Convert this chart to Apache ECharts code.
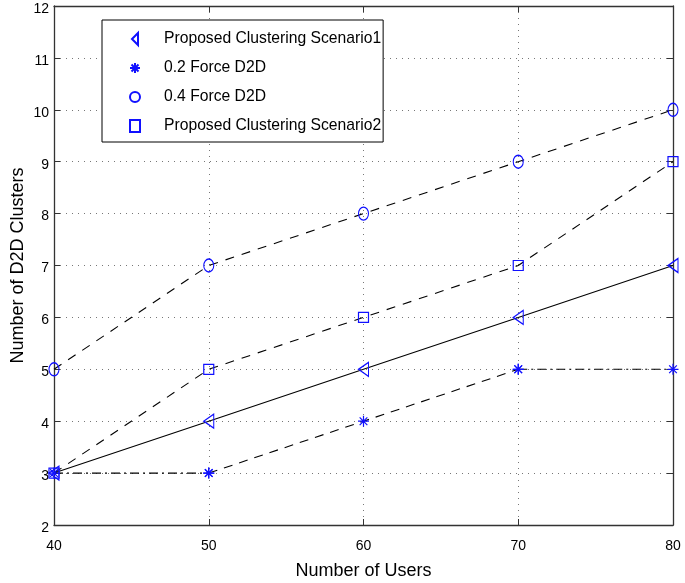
<!DOCTYPE html>
<html>
<head>
<meta charset="utf-8">
<script src="https://cdn.jsdelivr.net/npm/echarts@6/dist/echarts.min.js"></script>
<style>html,body{margin:0;padding:0;background:#fff}#c{width:685px;height:583px}</style>
</head>
<body>
<div id="c"></div>
<script>
var users = [40, 50, 60, 70, 80];
var scenario1 = [3, 4, 5, 6, 7];
var force02 = [3, 3, 4, 5, 5];
var force04 = [5, 7, 8, 9, 10];
var scenario2 = [3, 5, 6, 7, 9];
var names = ['Proposed Clustering Scenario1', '0.2 Force D2D', '0.4 Force D2D', 'Proposed Clustering Scenario2'];

function pairs(ys) { return users.map(function (x, i) { return [x, ys[i]]; }); }
// 0.2 Force D2D: the segment between index 1 and 3 is drawn dashed, the rest dash-dot
var midFrom = 1, midTo = 3;
function outerPart(ys) {
  return users.map(function (x, i) { return (i > midFrom && i < midTo) ? [x, null] : [x, ys[i]]; });
}
function middlePart(ys) {
  return users.slice(midFrom, midTo + 1).map(function (x, k) { return [x, ys[midFrom + k]]; });
}

var triLeft = 'path://M10,0 L10,20 L0,10 Z';
var star = 'path://M0,-10 L0,10 M-10,0 L10,0 M-7,-7 L7,7 M-7,7 L7,-7';
var blue = '#1010ff';
var font = 'Liberation Sans, Arial, sans-serif';

function ser(name, data, symbol, size, dash) {
  return {
    name: name, type: 'line', data: data, clip: false, connectNulls: false,
    symbol: symbol, symbolSize: size, showAllSymbol: true,
    itemStyle: { color: 'rgba(0,0,0,0)', borderColor: blue, borderWidth: 1.2 },
    lineStyle: { color: '#000', width: 1.1, type: dash },
    emphasis: { disabled: true }, z: 3
  };
}

var f02mid = ser(names[1], middlePart(force02), star, 11, [9, 7]);

var chart = echarts.init(document.getElementById('c'));
chart.setOption({
  animation: false,
  backgroundColor: '#fff',
  grid: { left: 54, right: 12, top: 6, bottom: 58, outerBoundsMode: 'none', containLabel: false },
  legend: {
    orient: 'vertical', left: 102, top: 20,
    padding: [11, 2, 8, 27],
    backgroundColor: '#fff', borderColor: '#000', borderWidth: 1,
    itemWidth: 10, itemHeight: 12, itemGap: 13,
    textStyle: { fontFamily: font, fontSize: 15.7, color: '#000', padding: [0, 0, 0, 19] },
    data: [
      { name: names[0], icon: triLeft },
      { name: names[1], icon: star },
      { name: names[2], icon: 'circle' },
      { name: names[3], icon: 'rect' }
    ]
  },
  xAxis: [{
    type: 'value', min: 40, max: 80, interval: 10,
    name: 'Number of Users', nameLocation: 'middle', nameGap: 37,
    nameTextStyle: { fontFamily: font, fontSize: 18, color: '#000' },
    axisLine: { lineStyle: { color: '#333', width: 1.3 } },
    axisTick: { inside: true, length: 6, lineStyle: { color: '#333' } },
    axisLabel: { fontFamily: font, fontSize: 14, color: '#000', margin: 14 },
    splitLine: { show: true, lineStyle: { color: '#777', type: [1, 5], width: 1 } }
  }, {
    type: 'value', min: 40, max: 80, interval: 10, position: 'top',
    axisLine: { show: true, onZero: false, lineStyle: { color: '#333', width: 1.3 } },
    axisTick: { show: true, inside: true, length: 6, lineStyle: { color: '#333' } },
    axisLabel: { show: false }, splitLine: { show: false }
  }],
  yAxis: [{
    type: 'value', min: 2, max: 12, interval: 1,
    name: 'Number of D2D Clusters', nameLocation: 'middle', nameGap: 27, nameMoveOverlap: false,
    nameTextStyle: { fontFamily: font, fontSize: 18, color: '#000' },
    axisLine: { show: true, lineStyle: { color: '#333', width: 1.3 } },
    axisTick: { show: true, inside: true, length: 6, lineStyle: { color: '#333' } },
    axisLabel: {
      fontFamily: font, fontSize: 14, color: '#000', margin: 5,
      formatter: '{a|{value}}',
      rich: { a: { fontFamily: font, fontSize: 14, color: '#000', padding: [6, 0, 0, 0] } }
    },
    splitLine: { show: true, lineStyle: { color: '#777', type: [1, 5], width: 1 } }
  }, {
    type: 'value', min: 2, max: 12, interval: 1, position: 'right',
    axisLine: { show: true, onZero: false, lineStyle: { color: '#333', width: 1.3 } },
    axisTick: { show: true, inside: true, length: 6, lineStyle: { color: '#333' } },
    axisLabel: { show: false }, splitLine: { show: false }
  }],
  series: [
    ser(names[0], pairs(scenario1), triLeft, [10, 14], 'solid'),
    ser(names[1], outerPart(force02), star, 11, [9, 4, 2, 4]),
    ser(names[2], pairs(force04), 'circle', [10, 13], [9, 8]),
    ser(names[3], pairs(scenario2), 'rect', 10, [9, 8]),
    f02mid
  ]
});
</script>
</body>
</html>
